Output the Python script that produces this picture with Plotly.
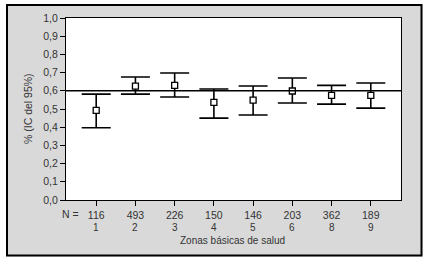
import plotly.graph_objects as go

zones = ["1", "2", "3", "4", "5", "6", "8", "9"]
n_values = [116, 493, 226, 150, 146, 203, 362, 189]
means = [0.492, 0.626, 0.630, 0.536, 0.549, 0.599, 0.575, 0.575]
upper = [0.582, 0.676, 0.698, 0.610, 0.626, 0.670, 0.630, 0.643]
lower = [0.397, 0.582, 0.566, 0.450, 0.467, 0.533, 0.527, 0.505]
reference_value = 0.6
y_tickvals = [0.0, 0.1, 0.2, 0.3, 0.4, 0.5, 0.6, 0.7, 0.8, 0.9, 1.0]
y_ticktext = ["0,0", "0,1", "0,2", "0,3", "0,4", "0,5", "0,6", "0,7", "0,8", "0,9", "1,0"]

W, H = 430, 259
L, R, T, B = 66, 29, 18, 59
pw, ph = W - L - R, H - T - B


def px_x(p):
    return (p - L) / pw


def px_y(p):
    return (H - B - p) / ph


font = dict(family="Liberation Sans, Arial, sans-serif", size=10.5, color="#333333")
small = dict(font, size=10)

fig = go.Figure()
fig.add_trace(go.Scatter(
    x=list(range(len(zones))),
    y=means,
    mode="markers",
    marker=dict(symbol="square", size=6, color="white", line=dict(color="black", width=1.3)),
    error_y=dict(
        type="data", symmetric=False,
        array=[u - m for u, m in zip(upper, means)],
        arrayminus=[m - l for m, l in zip(means, lower)],
        color="black", thickness=1.6, width=14.5,
    ),
    showlegend=False,
    hoverinfo="skip",
))

white_edge = dict(type="rect", xref="paper", yref="paper", fillcolor="white",
                  line=dict(width=0), layer="above")
shapes = [
    dict(white_edge, x0=px_x(0), x1=px_x(6), y0=px_y(H), y1=px_y(0)),
    dict(white_edge, x0=px_x(422.5), x1=px_x(W), y0=px_y(H), y1=px_y(0)),
    dict(white_edge, x0=px_x(0), x1=px_x(W), y0=px_y(4), y1=px_y(0)),
    dict(white_edge, x0=px_x(0), x1=px_x(W), y0=px_y(H), y1=px_y(256.5)),
    dict(type="rect", xref="paper", yref="paper",
         x0=px_x(7), x1=px_x(421.5), y0=px_y(255.5), y1=px_y(5),
         fillcolor="rgba(0,0,0,0)", line=dict(color="black", width=2), layer="above"),
    dict(type="line", xref="paper", yref="y", x0=0, x1=1,
         y0=reference_value, y1=reference_value,
         line=dict(color="black", width=1.5)),
]

annotations = [
    dict(text="N =", xref="paper", yref="paper", x=px_x(70), y=px_y(214),
         showarrow=False, font=font, xanchor="center", yanchor="middle"),
    dict(text="% (IC del 95%)", xref="paper", yref="paper", x=px_x(28), y=0.5,
         textangle=-90, showarrow=False, font=font, xanchor="center", yanchor="middle"),
    dict(text="Zonas básicas de salud", xref="paper", yref="paper", x=px_x(232), y=px_y(240.5),
         showarrow=False, font=small, xanchor="center", yanchor="middle"),
]
for i, z in enumerate(zones):
    annotations.append(dict(text=z, xref="x", yref="paper", x=i, y=px_y(228),
                            showarrow=False, font=small, xanchor="center", yanchor="middle"))

fig.update_layout(
    width=W, height=H,
    margin=dict(l=L, r=R, t=T, b=B, pad=0),
    paper_bgcolor="#d9d9d9",
    plot_bgcolor="white",
    font=font,
    shapes=shapes,
    annotations=annotations,
    xaxis=dict(
        range=[-0.77, len(zones) - 1 + 0.77],
        tickvals=list(range(len(zones))),
        ticktext=[str(n) for n in n_values],
        ticks="outside", ticklen=5, tickcolor="black", tickwidth=1.3,
        showline=True, linecolor="black", linewidth=1.3, mirror=True,
        showgrid=False, zeroline=False,
        tickfont=font,
        automargin=False,
    ),
    yaxis=dict(
        range=[0, 1],
        tickvals=y_tickvals,
        ticktext=y_ticktext,
        ticks="outside", ticklen=5, tickcolor="black", tickwidth=1.3,
        showline=True, linecolor="black", linewidth=1.3, mirror=True,
        showgrid=False, zeroline=False,
        tickfont=font,
        automargin=False,
    ),
)

fig.write_html("out.html", config={"displayModeBar": False},
               post_script="document.body.style.margin='0';")
